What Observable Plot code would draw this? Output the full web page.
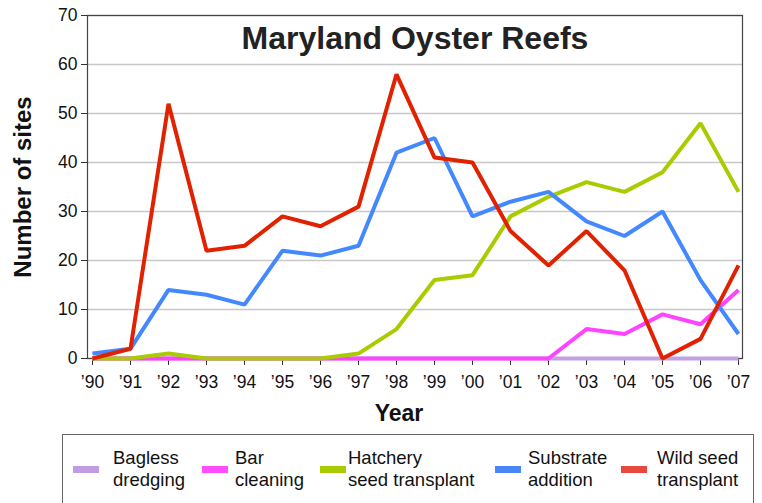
<!DOCTYPE html>
<html>
<head>
<meta charset="utf-8">
<script src="https://cdn.jsdelivr.net/npm/d3@7"></script>
<script src="https://cdn.jsdelivr.net/npm/@observablehq/plot@0.6"></script>
<style>
  body { margin: 0; background: white; font-family: "Liberation Sans", Arial, sans-serif; }
  #wrap { position: relative; width: 762px; height: 503px; overflow: hidden; }
  #legend { position: absolute; left: 62px; top: 434px; width: 692px; height: 80px; border: 1px solid #666; box-sizing: border-box; background: white; }
  .item { position: absolute; top: 12px; font-size: 18.5px; line-height: 22px; color: #111; white-space: nowrap; }
  .sw { position: absolute; width: 26px; height: 7px; top: 31px; }
</style>
</head>
<body>
<div id="wrap">
  <div id="chart"></div>
  <div id="legend"></div>
</div>
<script>
const years = ["’90","’91","’92","’93","’94","’95","’96","’97","’98","’99","’00","’01","’02","’03","’04","’05","’06","’07"];
const baglessDredging = [0,0,0,0,0,0,0,0,0,0,0,0,0,0,0,0,0,0];
const barCleaning = [0,0,0,0,0,0,0,0,0,0,0,0,0,6,5,9,7,14];
const hatcherySeed = [0,0,1,0,0,0,0,1,6,16,17,29,33,36,34,38,48,34];
const substrateAddition = [1,2,14,13,11,22,21,23,42,45,29,32,34,28,25,30,16,5];
const wildSeed = [0,2,52,22,23,29,27,31,58,41,40,26,19,26,18,0,4,19];
const yTicks = [0,10,20,30,40,50,60,70];

const seriesNames = ["Bagless dredging","Bar cleaning","Hatchery seed transplant","Substrate addition","Wild seed transplant"];
const legendLabels = [["Bagless","dredging"],["Bar","cleaning"],["Hatchery","seed transplant"],["Substrate","addition"],["Wild seed","transplant"]];
const lineColors = ["#c3a0e6","#ff44ff","#a8cc00","#4488ff","#e02200"];
const swatchColors = ["#c39be0","#ff4dff","#a6cc00","#4a86f5","#e8493e"];
const seriesValues = [baglessDredging, barCleaning, hatcherySeed, substrateAddition, wildSeed];

const rows = seriesNames.flatMap((s, i) => years.map((yr, j) => ({series: s, year: yr, value: seriesValues[i][j]})));

const chart = Plot.plot({
  width: 762,
  height: 433,
  marginLeft: 87,
  marginRight: 20,
  marginTop: 15,
  marginBottom: 75,
  style: {fontFamily: "'Liberation Sans', Arial, sans-serif", background: "white", color: "#111", overflow: "visible"},
  x: {type: "point", domain: years, padding: 0},
  y: {domain: [0, 70]},
  color: {domain: seriesNames, range: lineColors},
  marks: [
    Plot.gridY(yTicks, {stroke: "#c8c8c8", strokeOpacity: 1, strokeWidth: 1.5}),
    Plot.frame({stroke: "#444", strokeWidth: 1.2}),
    Plot.axisX({ticks: years, tickSize: 7, tickPadding: 10, fontSize: 17.5, label: null, stroke: "#333"}),
    Plot.axisY({ticks: yTicks, tickSize: 6, tickPadding: 4, fontSize: 17.5, label: null, stroke: "#333"}),
    ...seriesNames.map(s => Plot.line(rows.filter(d => d.series === s), {x: "year", y: "value", stroke: "series", strokeWidth: 4, strokeLinejoin: "miter", strokeLinecap: "butt"})),
    Plot.text(["Maryland Oyster Reefs"], {frameAnchor: "top", dy: 11, fontSize: 32, fontWeight: "bold", fill: "#222"}),
    Plot.text(["Number of sites"], {frameAnchor: "left", textAnchor: "middle", lineAnchor: "middle", rotate: -90, dx: -64, fontSize: 24, fontWeight: "bold", fill: "#111"}),
    Plot.text(["Year"], {frameAnchor: "bottom", dy: 62, dx: -16, fontSize: 23, fontWeight: "bold", fill: "#111"})
  ]
});
document.getElementById("chart").appendChild(chart);

const legend = document.getElementById("legend");
const swX = [10, 139, 257, 432, 558];
const txX = [50, 172, 285, 465, 594];
seriesNames.forEach((s, i) => {
  const sw = document.createElement("div");
  sw.className = "sw";
  sw.style.left = swX[i] + "px";
  sw.style.background = swatchColors[i];
  legend.appendChild(sw);
  const t = document.createElement("div");
  t.className = "item";
  t.style.left = txX[i] + "px";
  t.innerHTML = legendLabels[i].join("<br>");
  legend.appendChild(t);
});
</script>
</body>
</html>
